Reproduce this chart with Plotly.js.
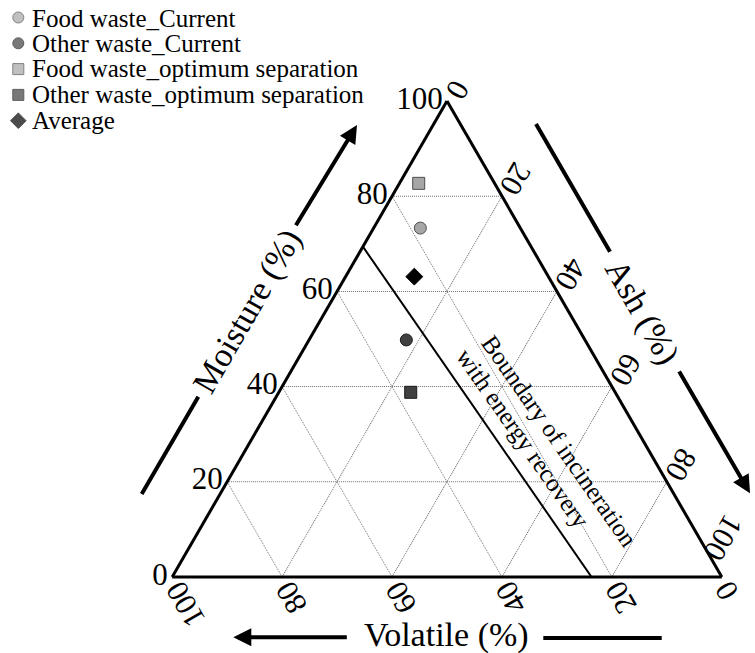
<!DOCTYPE html>
<html><head><meta charset="utf-8">
<script src="https://cdn.plot.ly/plotly-3.0.1.min.js"></script>
<style>html,body{margin:0;padding:0;background:#fff}</style>
</head><body>
<div id="chart" style="width:755px;height:653px"></div>
<script>
// ---- data ----
const seriesNames = ["Food waste_Current", "Other waste_Current", "Food waste_optimum separation", "Other waste_optimum separation", "Average"];
const moisture = [73.3, 49.8, 82.7, 38.8, 63.1];
const volatile = [18.2, 32.5, 13.8, 37.2, 24.4];
const ash = [8.5, 17.7, 3.5, 24.0, 12.5];
const boundaryMoisture = [69.4, 0];
const boundaryVolatile = [30.6, 23.7];
const boundaryAsh = [0, 76.3];
const tickVals = [0, 20, 40, 60, 80, 100];
const tickText = ["0", "20", "40", "60", "80", "100"];
const axisTitles = {a: "Moisture (%)", b: "Volatile (%)", c: "Ash (%)"};
const boundaryText = ["Boundary of incineration", "with energy recovery"];

// ---- styles ----
const symbols = ["circle", "circle", "square", "square", "diamond"];
const fills = ["#a6a6a6", "#404040", "#a6a6a6", "#404040", "#000000"];
const outlines = ["#4d4d4d", "#1a1a1a", "#4d4d4d", "#1a1a1a", "#000000"];
const sizes = [12, 12, 12, 12, 13];
const W = 755, H = 653;
const FONT = "Liberation Serif";
const TICK_SIZE = 31;
const px = x => x / W;
const py = y => 1 - y / H;

// ternary domain geometry (same numbers as layout.ternary.domain)
const DOM = {l: 172, r: 722, t: 101, b: 577};
const GEO = (() => {
  const w = DOM.r - DOM.l, h = DOM.b - DOM.t;
  const side = Math.min(w, h * 2 / Math.sqrt(3));
  return {x0: DOM.l + (w - side) / 2, y0: DOM.b, side: side, h: side * Math.sqrt(3) / 2};
})();
function tern2px(a, b, c) {
  const s = a + b + c; a /= s; c /= s;
  return [GEO.x0 + GEO.side * (c + a / 2), GEO.y0 - GEO.h * a];
}

const traces = [];
seriesNames.forEach((name, i) => {
  traces.push({
    type: "scatterternary", mode: "markers", name: name, showlegend: false,
    a: [moisture[i]], b: [volatile[i]], c: [ash[i]],
    marker: {symbol: symbols[i], size: sizes[i], color: fills[i], line: {color: outlines[i], width: 1}},
    hoverinfo: "name+a+b+c"
  });
});
traces.push({
  type: "scatterternary", mode: "lines", name: "Boundary", showlegend: false,
  a: boundaryMoisture, b: boundaryVolatile, c: boundaryAsh,
  line: {color: "#000", width: 2}, hoverinfo: "skip"
});
// legend key markers (one per series, in series order)
traces.push({
  type: "scatter", mode: "markers", xaxis: "x", yaxis: "y", showlegend: false,
  x: seriesNames.map(() => 18.3), y: seriesNames.map((n, i) => i),
  marker: {symbol: symbols, size: [11, 11, 11, 11, 12], color: fills, line: {color: outlines, width: 1}},
  hoverinfo: "skip", cliponaxis: false
});

const axisCommon = {
  title: {text: ""}, min: 0, tickmode: "array", tickvals: tickVals, ticktext: tickText,
  ticks: "", ticklen: 0, showline: true, linecolor: "#000", linewidth: 3,
  showgrid: true, gridcolor: "#707070", gridwidth: 1, griddash: "1px,1px",
  tickfont: {family: FONT, size: TICK_SIZE, color: "#000"}
};

const shapeLine = (x0, y0, x1, y1) => ({type: "line", xref: "paper", yref: "paper",
  x0: px(x0), y0: py(y0), x1: px(x1), y1: py(y1), line: {color: "#000", width: 4}});
const arrow = (tx, ty, hx, hy) => ({xref: "paper", yref: "paper", x: px(hx), y: py(hy),
  ax: tx - hx, ay: ty - hy, text: "", showarrow: true, arrowhead: 2, arrowsize: 0.9,
  arrowwidth: 4, arrowcolor: "#000", standoff: 0});
const label = (x, y, text, angle, size) => ({xref: "paper", yref: "paper", x: px(x), y: py(y),
  text: text, textangle: angle, showarrow: false, xanchor: "center", yanchor: "middle",
  font: {family: FONT, size: size, color: "#000"}});
const legendText = seriesNames.map((n, i) => ({xref: "paper", yref: "paper",
  x: px(29.5), y: py(18 + 25.5 * i), text: n, showarrow: false, xanchor: "left", yanchor: "middle",
  font: {family: FONT, size: 25, color: "#000"}}));

// rotated tick labels for the Volatile (bottom) and Ash (right) sides, end of text at the tick
const CHAR_W = TICK_SIZE * 0.5;
const volatileTickLabels = tickVals.map((v, i) => {
  const [tx, ty] = tern2px(0, v, 100 - v);
  const half = tickText[i].length * CHAR_W / 2;
  return label(tx + 1 + half * 0.5, ty + 7 + half * 0.866, tickText[i], -120, TICK_SIZE);
});
const ashTickLabels = tickVals.map((v, i) => {
  const [tx, ty] = tern2px(100 - v, 0, v);
  const half = tickText[i].length * CHAR_W / 2;
  let cx = tx + 6.5 + half * 0.5, cy = ty - 3.75 - half * 0.866;
  // keep the whole rotated label box inside the picture (right edge)
  const ext = (half + 3) * 0.5 + TICK_SIZE * 0.65 * 0.866;
  const over = cx + ext - (W - 1);
  if (over > 0) { cx -= over; cy -= over * 0.9; }
  return label(cx, cy, tickText[i], 120, TICK_SIZE);
});

const layout = {
  width: W, height: H, margin: {l: 0, r: 0, t: 0, b: 0},
  paper_bgcolor: "#fff", plot_bgcolor: "rgba(0,0,0,0)", showlegend: false,
  ternary: {
    sum: 100, bgcolor: "rgba(0,0,0,0)",
    domain: {x: [DOM.l / W, DOM.r / W], y: [1 - DOM.b / H, 1 - DOM.t / H]},
    aaxis: Object.assign({}, axisCommon, {tickangle: 0}),
    baxis: Object.assign({}, axisCommon, {showticklabels: false}),
    caxis: Object.assign({}, axisCommon, {showticklabels: false})
  },
  xaxis: {domain: [0, 0.5], range: [0, 377.5], visible: false, fixedrange: true},
  yaxis: {domain: [1 - 140 / H, 1], range: [(140 - 17.5) / 25.8, -17.5 / 25.8], visible: false, fixedrange: true},
  shapes: [
    shapeLine(141.7, 494, 198.3, 396.7),
    shapeLine(536, 124, 610, 251.7),
    shapeLine(543.3, 638, 661.7, 638)
  ],
  annotations: [
    arrow(295, 226.7, 357, 125),
    arrow(678.3, 370, 750, 493.3),
    arrow(348.3, 637.3, 233.3, 637.3),
    label(246.5, 311.5, axisTitles.a, -60, 34),
    label(642, 312, axisTitles.c, 60, 34),
    label(446.7, 635, axisTitles.b, 0, 34),
    label(560, 441, boundaryText[0], 55, 25),
    label(523.3, 438.3, boundaryText[1], 55, 25)
  ].concat(legendText, volatileTickLabels, ashTickLabels)
};

Plotly.newPlot("chart", traces, layout, {displayModeBar: false, staticPlot: true});
</script>
</body></html>
